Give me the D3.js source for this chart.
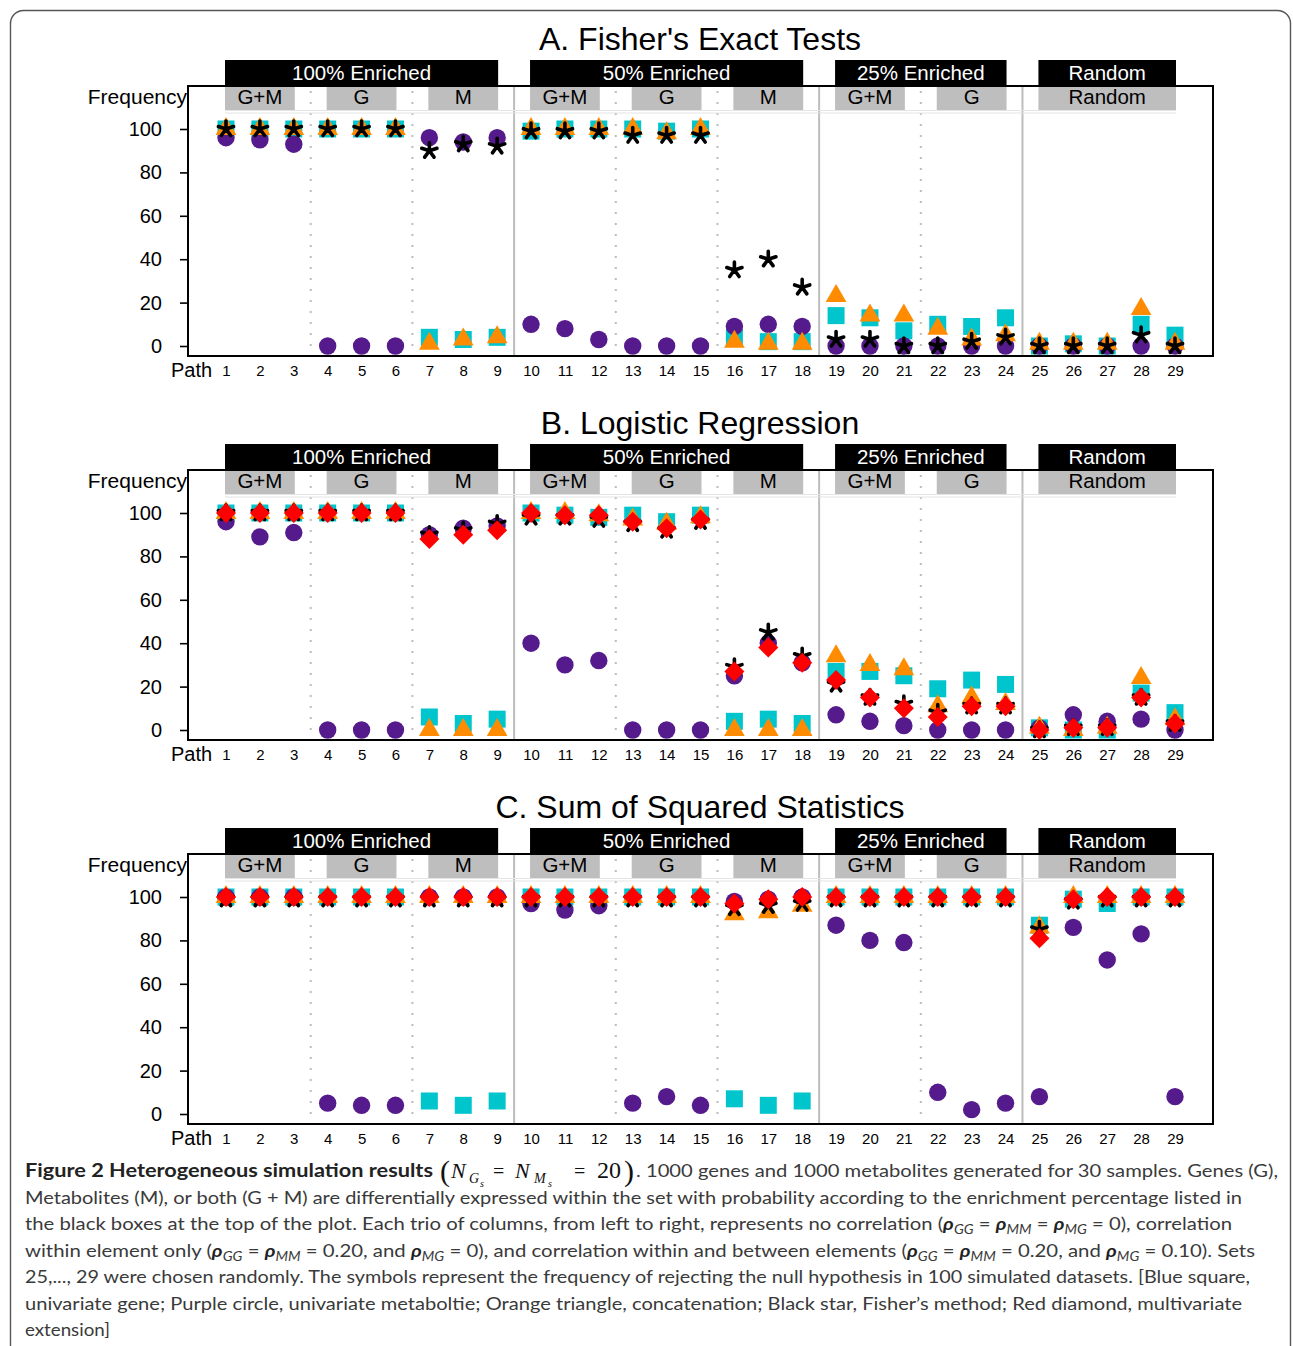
<!DOCTYPE html>
<html><head><meta charset="utf-8">
<script src="https://cdn.jsdelivr.net/npm/d3@7"></script>
<style>
body{margin:0;background:#fff}
svg{display:block}
text{font-family:"Liberation Sans",Arial,Helvetica,sans-serif}
.cap{font-family:"Lato","Open Sans","Noto Sans",sans-serif;fill:#3a3a3a}
.serif{font-family:"Liberation Serif","DejaVu Serif",serif;fill:#111}
</style>
</head><body>
<svg id="c" width="1293" height="1346"></svg>
<script>
// ---------- data ----------
const pathLabels = [1,2,3,4,5,6,7,8,9,10,11,12,13,14,15,16,17,18,19,20,21,22,23,24,25,26,27,28,29];
const yTicks = [0,20,40,60,80,100];
const enrichLabels = ["100% Enriched","50% Enriched","25% Enriched","Random"];
const enrichSpans = [[1,9],[10,18],[19,24],[25,29]];
const subLabels = ["G+M","G","M","G+M","G","M","G+M","G","Random"];
const subSpans = [[1,3],[4,6],[7,9],[10,12],[13,15],[16,18],[19,21],[22,24],[25,29]];
const panelTitles = ["A. Fisher's Exact Tests","B. Logistic Regression","C. Sum of Squared Statistics"];

// A. Fisher's exact tests
const fisherGene   = [100,100,100,100,100,100,4,3,4, 99,100,100,100,99,100, 4,2,2, 14,13,7,10,9,13, 0,1,0,10,5];
const fisherMetab  = [96,95,93,0,0,0,96,94,96, 10,8,3,0,0,0, 9,10,9, 0,0,0,0,0,0, 0,0,0,0,0];
const fisherConcat = [100,100,100,100,100,100,1,3,4, 100,100,100,100,98,100, 2,1,1, 23,14,14,8,3,5, 1,1,1,17,1];
const fisherFisher = [100,100,100,100,100,100,90,93,92, 99,99,99,97,97,97, 35,40,27, 3,3,0,0,2,4, 0,0,0,5,0];

// B. Logistic regression
const logitGene   = [100,100,100,100,100,100,6,3,5, 100,99,98,99,96,99, 4,5,3, 27,27,25,19,23,21, 1,0,0,17,8];
const logitMetab  = [96,89,91,0,0,0,90,93,94, 40,30,32,0,0,0, 25,40,31, 7,4,2,0,0,0, 1,7,4,5,0];
const logitConcat = [100,100,100,100,100,100,0,0,0, 100,100,99,97,95,98, 0,0,0, 34,30,28,11,15,12, 1,0,1,24,5];
const logitFisher = [100,100,100,100,100,100,90,92,95, 98,98,97,95,92,96, 29,45,34, 21,15,12,8,11,11, 0,1,1,15,3];
const logitMulti  = [100,100,100,100,100,100,88,90,92, 100,99,99,96,93,97, 27,38,31, 23,15,10,6,11,11, 0,1,1,15,3];

// C. Sum of squared statistics
const ssqGene   = [100,100,100,100,100,100,6,4,6, 100,100,100,100,100,100, 7,4,6, 100,100,100,100,100,100, 87,99,97,100,100];
const ssqMetab  = [100,100,100,5,4,4,100,100,100, 97,94,96,5,8,4, 98,99,100, 87,80,79,10,2,5, 8,86,71,83,8];
const ssqConcat = [100,100,100,100,100,100,100,100,100, 100,100,100,100,100,100, 92,93,96, 100,100,100,100,100,100, 86,100,100,100,100];
const ssqFisher = [99,99,99,99,99,99,99,99,99, 99,99,99,99,99,99, 95,96,97, 99,99,99,99,99,99, 85,98,99,99,99];
const ssqMulti  = [100,100,100,100,100,100,100,100,100, 100,100,100,100,100,100, 97,99,100, 100,100,100,100,100,100, 81,99,100,100,100];

const panels = [
  {gene:fisherGene, metab:fisherMetab, concat:fisherConcat, fisher:fisherFisher, multi:null},
  {gene:logitGene, metab:logitMetab, concat:logitConcat, fisher:logitFisher, multi:logitMulti},
  {gene:ssqGene, metab:ssqMetab, concat:ssqConcat, fisher:ssqFisher, multi:ssqMulti}
];

// ---------- drawing ----------
const svg = d3.select("#c");
svg.append("rect").attr("x",10.5).attr("y",10.5).attr("width",1280).attr("height",1420)
  .attr("rx",13).attr("fill","none").attr("stroke","#555").attr("stroke-width",1.4);

const x = d3.scaleLinear().domain([1,29]).range([226,1175]);
const frame = {left:188, right:1213, top:86, bottom:356};
const col = {gene:"#00C5CD", metab:"#551A8B", concat:"#FF8C00", fisher:"#000", multi:"#FF0000"};

const symSquare = d3.symbol().type(d3.symbolSquare).size(17*17)();
const symCircle = d3.symbol().type(d3.symbolCircle).size(Math.PI*8.7*8.7)();
const symTri = d3.symbol().type(d3.symbolTriangle).size(36*3*Math.sqrt(3))();
const symDiamond = d3.symbol().type(d3.symbolSquare).size(200)();
function starPath(r){
  let p="";
  for(let k=0;k<5;k++){const t=k*72*Math.PI/180;p+=`M0,0L${(r*Math.sin(t)).toFixed(2)},${(-r*Math.cos(t)).toFixed(2)}`;}
  return p;
}
const symStar = starPath(8);

function drawPanel(i, s){
  const off = i*384;
  const g = svg.append("g").attr("transform",`translate(0,${off})`);
  const y = d3.scaleLinear().domain([0,100]).range([346,129]);

  g.append("text").attr("x",700).attr("y",50).attr("text-anchor","middle")
    .style("font-size","32px").attr("fill","#000").text(panelTitles[i]);

  // separators
  enrichSpans.slice(0,-1).forEach((sp,k)=>{
    const xm = (x(sp[1])+x(enrichSpans[k+1][0]))/2;
    g.append("line").attr("x1",xm).attr("x2",xm).attr("y1",frame.top).attr("y2",frame.bottom)
      .attr("stroke","#bdbdbd").attr("stroke-width",2);
  });
  subSpans.slice(0,-1).forEach((sp,k)=>{
    const nx = subSpans[k+1];
    const same = enrichSpans.some(e=>sp[0]>=e[0]&&sp[1]<=e[1]&&nx[0]>=e[0]&&nx[1]<=e[1]);
    if(!same) return;
    const xm = (x(sp[1])+x(nx[0]))/2;
    g.append("line").attr("x1",xm).attr("x2",xm).attr("y1",frame.top+5).attr("y2",frame.bottom)
      .attr("stroke","#bcbcbc").attr("stroke-width",2).attr("stroke-dasharray","2,9");
  });

  // faint lines under label strip
  [110.5,113].forEach(yy=>{
    g.append("line").attr("x1",x(1)-1).attr("x2",x(29)+1).attr("y1",yy).attr("y2",yy)
      .attr("stroke","#e4e4e4").attr("stroke-width",1);
  });

  // markers
  const layer = (arr, path, color, cls, stroke) => {
    if(!arr) return;
    const sel = g.append("g").selectAll("path").data(arr).join("path")
      .attr("d",path)
      .attr("transform",(d,j)=>`translate(${x(pathLabels[j])},${y(d)})${cls==="diamond"?" rotate(45)":""}`);
    if(stroke){ sel.attr("fill","none").attr("stroke",color).attr("stroke-width",3.6).attr("stroke-linecap","round"); }
    else sel.attr("fill",color);
  };
  layer(s.gene, symSquare, col.gene, "square");
  layer(s.metab, symCircle, col.metab, "circle");
  layer(s.concat, symTri, col.concat, "triangle");
  layer(s.fisher, symStar, col.fisher, "star", true);
  layer(s.multi, symDiamond, col.multi, "diamond");

  // label boxes
  enrichSpans.forEach((sp,k)=>{
    g.append("rect").attr("x",x(sp[0])-1).attr("y",60).attr("width",x(sp[1])-x(sp[0])+2).attr("height",26).attr("fill","#000");
    g.append("text").attr("x",(x(sp[0])+x(sp[1]))/2).attr("y",79.5).attr("text-anchor","middle")
      .style("font-size","20.5px").attr("fill","#fff").text(enrichLabels[k]);
  });
  subSpans.forEach((sp,k)=>{
    g.append("rect").attr("x",x(sp[0])-1).attr("y",86).attr("width",x(sp[1])-x(sp[0])+2).attr("height",24).attr("fill","#bebebe");
    g.append("text").attr("x",(x(sp[0])+x(sp[1]))/2).attr("y",104).attr("text-anchor","middle")
      .style("font-size","20.5px").attr("fill","#000").text(subLabels[k]);
  });

  // frame
  g.append("rect").attr("x",frame.left).attr("y",frame.top).attr("width",frame.right-frame.left)
    .attr("height",frame.bottom-frame.top).attr("fill","none").attr("stroke","#000").attr("stroke-width",2);

  // y axis
  const ya = g.append("g").attr("transform",`translate(${frame.left},0)`)
    .call(d3.axisLeft(y).tickValues(yTicks).tickSize(8).tickPadding(18));
  ya.select(".domain").remove();
  ya.selectAll(".tick line").attr("stroke","#000").attr("stroke-width",1.6);
  ya.selectAll(".tick text").style("font-size","20px").attr("fill","#000")
    .style("font-family","'Liberation Sans',Arial,sans-serif");

  // x axis
  const xa = g.append("g").attr("transform",`translate(0,${frame.bottom})`)
    .call(d3.axisBottom(x).tickValues(pathLabels).tickSize(0).tickPadding(9).tickFormat(d3.format("d")));
  xa.select(".domain").remove();
  xa.selectAll(".tick text").style("font-size","15px").attr("fill","#000")
    .style("font-family","'Liberation Sans',Arial,sans-serif");

  g.append("text").attr("x",171).attr("y",377).style("font-size","20px").attr("fill","#000").text("Path");
  g.append("text").attr("x",187).attr("y",104).attr("text-anchor","end").style("font-size","21px").attr("fill","#000").text("Frequency");
}
panels.forEach((p,i)=>drawPanel(i,p));

// ---------- caption ----------
const cap = svg.append("g");
cap.append("text").attr("x",25).attr("y",1177).style("font-family","'Lato','Open Sans',sans-serif")
  .style("font-weight","bold").style("font-size","18.5px").attr("fill","#222")
  .attr("textLength",408).attr("lengthAdjust","spacingAndGlyphs").text("Figure 2 Heterogeneous simulation results");

// math (N_Gs = N_Ms = 20)
const m = [
  {t:"(",x:440,y:1181,fs:30,it:false},
  {t:"N",x:451,y:1178,fs:22,it:true},
  {t:"G",x:469,y:1183,fs:14,it:true},
  {t:"s",x:480,y:1187,fs:10,it:true},
  {t:"=",x:493,y:1178,fs:20,it:false},
  {t:"N",x:515,y:1178,fs:22,it:true},
  {t:"M",x:534,y:1183,fs:14,it:true},
  {t:"s",x:548,y:1187,fs:10,it:true},
  {t:"=",x:574,y:1178,fs:20,it:false},
  {t:"20",x:597,y:1178,fs:24,it:false},
  {t:")",x:624,y:1181,fs:30,it:false}
];
m.forEach(d=>cap.append("text").attr("class","serif").attr("x",d.x).attr("y",d.y)
  .style("font-size",d.fs+"px").style("font-style",d.it?"italic":"normal").text(d.t));

function capLine(xx, yy, segs, len){
  const t = cap.append("text").attr("class","cap").attr("x",xx).attr("y",yy).style("font-size","17.5px");
  if(len) t.attr("textLength",len).attr("lengthAdjust","spacingAndGlyphs");
  let pending = 0;
  segs.forEach(s=>{
    if(typeof s==="string"){
      const ts = t.append("tspan").text(s);
      if(pending){ ts.attr("dy",pending); pending=0; }
    } else {
      const r = t.append("tspan").style("font-style","italic").style("font-weight","bold").attr("fill","#222").text("ρ");
      if(pending){ r.attr("dy",pending); pending=0; }
      t.append("tspan").style("font-style","italic").style("font-size","12.5px").attr("dy",4).text(s.sub);
      pending = -4;
    }
  });
}
const R = sub=>({sub});
capLine(636,1177,[". 1000 genes and 1000 metabolites generated for 30 samples. Genes (G),"],642);
capLine(25,1203.5,["Metabolites (M), or both (G + M) are differentially expressed within the set with probability according to the enrichment percentage listed in"],1217);
capLine(25,1230,["the black boxes at the top of the plot. Each trio of columns, from left to right, represents no correlation (",R("GG")," = ",R("MM")," = ",R("MG")," = 0), correlation"],1207);
capLine(25,1256.5,["within element only (",R("GG")," = ",R("MM")," = 0.20, and ",R("MG")," = 0), and correlation within and between elements (",R("GG")," = ",R("MM")," = 0.20, and ",R("MG")," = 0.10). Sets"],1230);
capLine(25,1283,["25,..., 29 were chosen randomly. The symbols represent the frequency of rejecting the null hypothesis in 100 simulated datasets. [Blue square,"],1225);
capLine(25,1309.5,["univariate gene; Purple circle, univariate metaboltie; Orange triangle, concatenation; Black star, Fisher\u2019s method; Red diamond, multivariate"],1217);
capLine(25,1336,["extension]"],85);
</script>
</body></html>
